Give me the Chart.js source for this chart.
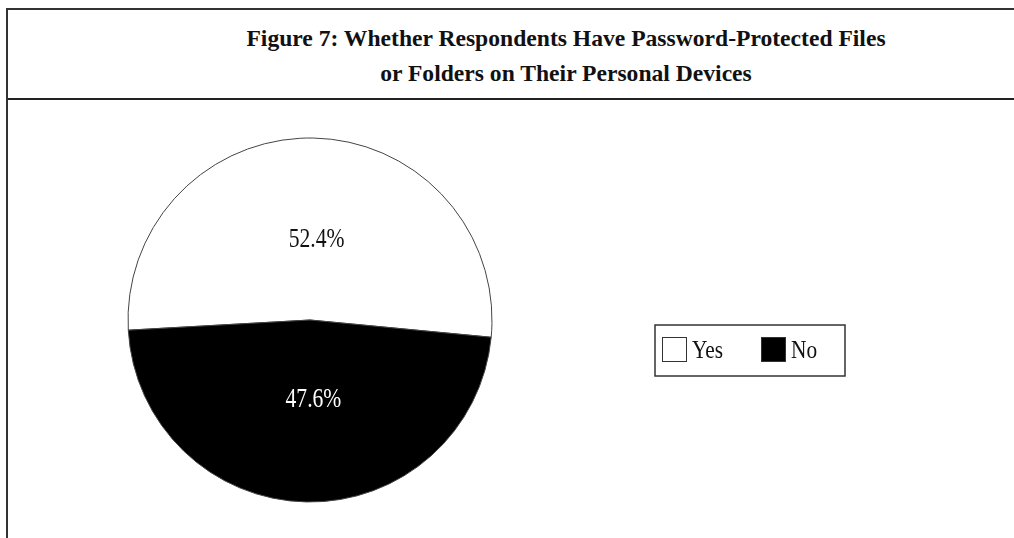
<!DOCTYPE html>
<html>
<head>
<meta charset="utf-8">
<script src="https://cdn.jsdelivr.net/npm/chart.js@4.4.0/dist/chart.umd.min.js"></script>
<style>
  html, body { margin: 0; padding: 0; background: #fff; overflow: hidden; }
  body { width: 1014px; height: 538px; position: relative; }
  #frame {
    position: absolute; left: 6px; top: 8px; width: 1120px; height: 600px;
    border: 2px solid #333; box-sizing: border-box;
  }
  #title {
    height: 90px; border-bottom: 2px solid #222; box-sizing: border-box;
    text-align: center; font-family: "Liberation Serif", serif; font-weight: bold;
    font-size: 23.6px; line-height: 35px; padding-top: 11px; color: #111;
  }
  #wrap { position: absolute; left: 0; top: 0; width: 1014px; height: 538px; }
</style>
</head>
<body>
<div id="frame">
  <div id="title">Figure 7: Whether Respondents Have Password-Protected Files<br>or Folders on Their Personal Devices</div>
</div>
<div id="wrap"><canvas id="pie" width="1014" height="538"></canvas></div>
<script>
// Data
const labels = ['Yes', 'No'];
const values = [52.4, 47.6];
const colors = ['#ffffff', '#000000'];
const labelColors = ['#111111', '#ffffff'];

// narrow-looking serif text (the original uses a condensed old-style face)
function narrowText(ctx, text, x, y, sx) {
    ctx.save();
    ctx.translate(x, y);
    ctx.scale(sx, 1);
    ctx.fillText(text, 0, 0);
    ctx.restore();
}

// Percent labels inside slices
const sliceLabels = {
    id: 'sliceLabels',
    afterDatasetsDraw(chart) {
        const ctx = chart.ctx;
        const meta = chart.getDatasetMeta(0);
        ctx.save();
        ctx.font = '27px "Liberation Serif", serif';
        ctx.textAlign = 'center';
        ctx.textBaseline = 'middle';
        meta.data.forEach((arc, i) => {
            const mid = (arc.startAngle + arc.endAngle) / 2;
            const r = arc.outerRadius * 0.44;
            ctx.fillStyle = labelColors[i];
            narrowText(ctx, values[i].toFixed(1) + '%', arc.x + Math.cos(mid) * r + 5, arc.y + Math.sin(mid) * r, 0.8);
        });
        ctx.restore();
    }
};

// Boxed horizontal legend on the right
const boxLegend = {
    id: 'boxLegend',
    afterDraw(chart) {
        const ctx = chart.ctx;
        const x0 = 655, y0 = 325, w = 190, h = 51;
        ctx.save();
        ctx.strokeStyle = '#333';
        ctx.lineWidth = 1.5;
        ctx.strokeRect(x0, y0, w, h);
        ctx.font = '26px "Liberation Serif", serif';
        ctx.textBaseline = 'middle';
        let x = x0 + 7;
        labels.forEach((lab, i) => {
            ctx.fillStyle = colors[i];
            ctx.fillRect(x, y0 + 12, 24, 24);
            ctx.strokeStyle = '#333';
            ctx.lineWidth = 1;
            ctx.strokeRect(x + 0.5, y0 + 12.5, 24, 24);
            ctx.fillStyle = '#111';
            narrowText(ctx, lab, x + 30, y0 + 26, 0.82);
            x += 99;
        });
        ctx.restore();
    }
};

new Chart(document.getElementById('pie'), {
    type: 'pie',
    data: {
        labels: labels,
        datasets: [{
            data: values,
            backgroundColor: colors,
            borderColor: '#444',
            borderWidth: 1,
            hoverOffset: 0,
            radius: 182
        }]
    },
    options: {
        responsive: false,
        animation: false,
        rotation: 266.8,
        layout: { padding: { left: 128, top: 138, right: 522, bottom: 36 } },
        plugins: {
            legend: { display: false },
            tooltip: { enabled: false },
            title: { display: false }
        }
    },
    plugins: [sliceLabels, boxLegend]
});
</script>
</body>
</html>
